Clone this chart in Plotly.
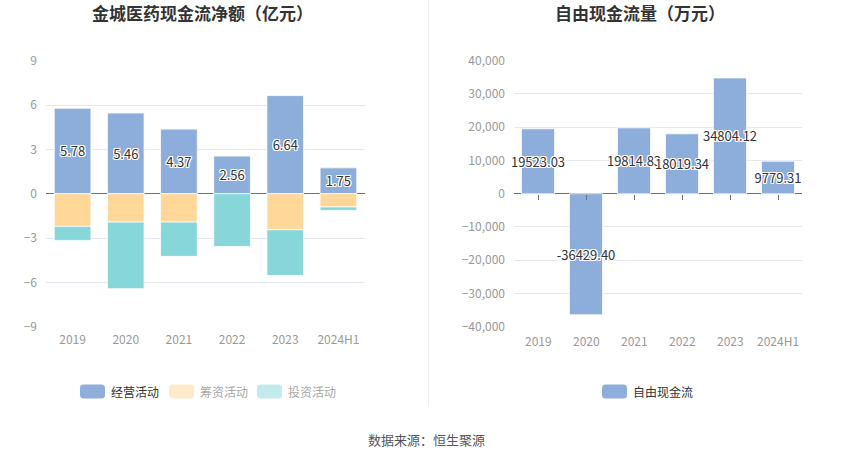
import plotly.graph_objects as go

# ---------------- data ----------------
years = ["2019", "2020", "2021", "2022", "2023", "2024H1"]
operating = [5.78, 5.46, 4.37, 2.56, 6.64, 1.75]
financing = [-2.21, -1.92, -1.92, 0.04, -2.44, -0.90]
investing = [-0.95, -4.51, -2.32, -3.57, -3.09, -0.23]
free_cf = [19523.03, -36429.40, 19814.83, 18019.34, 34804.12, 9779.31]

left_ticks = [-9, -6, -3, 0, 3, 6, 9]
right_ticks = [-40000, -30000, -20000, -10000, 0, 10000, 20000, 30000, 40000]

title_left = "金城医药现金流净额（亿元）"
title_right = "自由现金流量（万元）"
legend_left = ["经营活动", "筹资活动", "投资活动"]
legend_right = ["自由现金流"]
source_text = "数据来源：恒生聚源"

# ---------------- style ----------------
W, H = 850, 459
FONT = "Noto Sans CJK SC"
C_OP = "#8DADDA"
C_FIN = "#FFD899"
C_INV = "#87D6DA"
GRID = "#E3E8F3"
OUTLINE = ("-1px -1px 0 #fff, 1px -1px 0 #fff, -1px 1px 0 #fff, 1px 1px 0 #fff, "
           "0 1px 0 #fff, 0 -1px 0 #fff, 1px 0 0 #fff, -1px 0 0 #fff")

def px_x(p):
    return p / W

def px_y(p):
    return 1 - p / H

fig = go.Figure()

bar_line = dict(color="white", width=0.8)
fig.add_trace(go.Bar(x=years, y=operating, name=legend_left[0], marker=dict(color=C_OP, line=bar_line),
                     text=[f"{v:.2f}" for v in operating], textposition="inside",
                     insidetextanchor="middle", textangle=0, constraintext="none",
                     textfont=dict(family=FONT, size=13, color="#333", shadow=OUTLINE),
                     xaxis="x", yaxis="y", width=0.69))
fig.add_trace(go.Bar(x=years, y=financing, name=legend_left[1], marker=dict(color=C_FIN, line=bar_line),
                     xaxis="x", yaxis="y", width=0.69))
fig.add_trace(go.Bar(x=years, y=investing, name=legend_left[2], marker=dict(color=C_INV, line=bar_line),
                     xaxis="x", yaxis="y", width=0.69))
fig.add_trace(go.Bar(x=years, y=free_cf, name=legend_right[0], marker=dict(color=C_OP, line=bar_line),
                     text=[f"{v:.2f}" for v in free_cf], textposition="inside",
                     insidetextanchor="middle", textangle=0, constraintext="none",
                     textfont=dict(family=FONT, size=13, color="#333", shadow=OUTLINE),
                     cliponaxis=False,
                     xaxis="x2", yaxis="y2", width=0.69))

ydom = [px_y(326.7), px_y(60.7)]
zero_pos = (ydom[0] + ydom[1]) / 2
tickfont = dict(family=FONT, size=12, color="#999")
cat_range = [-0.5, len(years) - 0.5]

fig.update_layout(
    width=W, height=H,
    margin=dict(l=0, r=0, t=0, b=0),
    paper_bgcolor="white", plot_bgcolor="white",
    barmode="relative",
    showlegend=False,
    hovermode=False,
    font=dict(family=FONT),
    xaxis=dict(type="category", range=cat_range, domain=[px_x(46), px_x(365)], anchor="y",
               showgrid=False, showline=False, ticks="", tickfont=tickfont,
               ticklabelstandoff=4, automargin=False),
    yaxis=dict(domain=ydom, anchor="x", range=[-9, 9], tickvals=left_ticks,
               showgrid=True, gridcolor=GRID, gridwidth=1, zeroline=True, zerolinecolor="#6E7079",
               zerolinewidth=1, showline=False, ticks="", tickfont=tickfont,
               ticklabelstandoff=8, automargin=False),
    xaxis2=dict(type="category", range=cat_range, domain=[px_x(514), px_x(802)], anchor="free",
                position=zero_pos, showgrid=False, showline=False, ticks="outside", ticklen=5,
                tickcolor="#6E7079", tickwidth=1, showticklabels=False, automargin=False),
    yaxis2=dict(domain=ydom, anchor="x2", range=[-40000, 40000], tickvals=right_ticks,
                tickformat=",d", showgrid=True, gridcolor=GRID, gridwidth=1, zeroline=True,
                zerolinecolor="#6E7079", zerolinewidth=1, showline=False, ticks="",
                tickfont=tickfont, ticklabelstandoff=8, automargin=False),
)

shapes = []
# separator
shapes.append(dict(type="line", xref="paper", yref="paper", x0=px_x(428.5), x1=px_x(428.5),
                   y0=px_y(407), y1=1, line=dict(color="#EEEEEE", width=1)))

def rrect(x0, y0, x1, y1, r, color):
    X = lambda v: px_x(v)
    Y = lambda v: px_y(v)
    path = (f"M {X(x0+r)},{Y(y0)} L {X(x1-r)},{Y(y0)} Q {X(x1)},{Y(y0)} {X(x1)},{Y(y0+r)} "
            f"L {X(x1)},{Y(y1-r)} Q {X(x1)},{Y(y1)} {X(x1-r)},{Y(y1)} "
            f"L {X(x0+r)},{Y(y1)} Q {X(x0)},{Y(y1)} {X(x0)},{Y(y1-r)} "
            f"L {X(x0)},{Y(y0+r)} Q {X(x0)},{Y(y0)} {X(x0+r)},{Y(y0)} Z")
    return dict(type="path", xref="paper", yref="paper", path=path,
                fillcolor=color, line=dict(width=0))

annotations = []
# category labels under the right chart (positions via category index on x2)
for i, y in enumerate(years):
    annotations.append(dict(xref="x2", yref="paper", x=i, y=px_y(340), xanchor="center",
                            yanchor="middle", text=y, showarrow=False, font=tickfont))

leg_items = [
    (80, legend_left[0], "#8FAEDB", "#333333"),
    (169, legend_left[1], "#FFEACB", "#A8A8A8"),
    (257, legend_left[2], "#C3EBEE", "#A8A8A8"),
    (602, legend_right[0], "#8FAEDB", "#333333"),
]
for x0, label, mc, tc in leg_items:
    shapes.append(rrect(x0, 384.5, x0 + 25, 398.5, 3.5, mc))
    annotations.append(dict(xref="paper", yref="paper", x=px_x(x0 + 29), y=px_y(391.5),
                            xanchor="left", yanchor="middle", text=label, showarrow=False,
                            font=dict(family=FONT, size=12, color=tc)))

annotations.append(dict(xref="paper", yref="paper", x=px_x(202), y=px_y(12.5), xanchor="center",
                        yanchor="middle", text=f"<b>{title_left}</b>", showarrow=False,
                        font=dict(family=FONT, size=17, color="#333")))
annotations.append(dict(xref="paper", yref="paper", x=px_x(640), y=px_y(12.5), xanchor="center",
                        yanchor="middle", text=f"<b>{title_right}</b>", showarrow=False,
                        font=dict(family=FONT, size=17, color="#333")))
annotations.append(dict(xref="paper", yref="paper", x=px_x(426), y=px_y(439), xanchor="center",
                        yanchor="middle", text=source_text, showarrow=False,
                        font=dict(family=FONT, size=13, color="#555")))

fig.update_layout(shapes=shapes, annotations=annotations)
fig.write_html("out.html", config={"displayModeBar": False},
               post_script="document.body.style.margin='0';")
